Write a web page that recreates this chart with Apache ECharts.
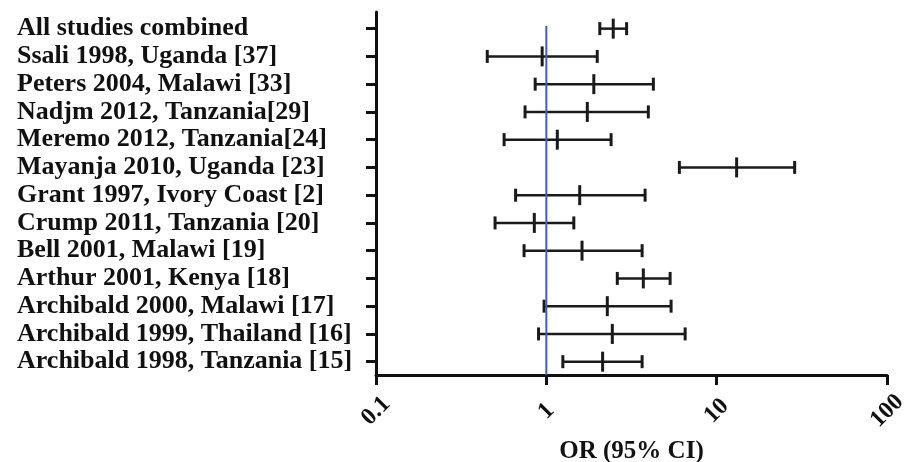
<!DOCTYPE html>
<html>
<head>
<meta charset="utf-8">
<script src="https://cdn.jsdelivr.net/npm/echarts@6/dist/echarts.min.js"></script>
<style>
html,body{margin:0;padding:0;background:#fff;}
#chart{width:905px;height:462px;}
</style>
</head>
<body>
<div id="chart"></div>
<script>
// Studies, bottom to top
const studies = [
  "Archibald 1998, Tanzania [15]",
  "Archibald 1999, Thailand [16]",
  "Archibald 2000, Malawi [17]",
  "Arthur 2001, Kenya [18]",
  "Bell 2001, Malawi [19]",
  "Crump 2011, Tanzania [20]",
  "Grant 1997, Ivory Coast [2]",
  "Mayanja 2010, Uganda [23]",
  "Meremo 2012, Tanzania[24]",
  "Nadjm 2012, Tanzania[29]",
  "Peters 2004, Malawi [33]",
  "Ssali 1998, Uganda [37]",
  "All studies combined"
];
const oddsRatio = [2.14, 2.44, 2.28, 3.71, 1.62, 0.85, 1.57, 13.1, 1.16, 1.74, 1.90, 0.945, 2.47];
const ciLower   = [1.25, 0.90, 0.97, 2.61, 0.74, 0.50, 0.66, 6.04, 0.565, 0.75, 0.86, 0.45, 2.06];
const ciUpper   = [3.65, 6.53, 5.40, 5.33, 3.65, 1.45, 3.80, 28.7, 2.40, 3.97, 4.25, 1.99, 2.96];
const xTickValues = [0.1, 1, 10, 100];
const nullValue = 1;
const rowIndex = studies.map((_, i) => i);

const fontFam = '"Liberation Serif", "Times New Roman", serif';
const chart = echarts.init(document.getElementById('chart'), null, {renderer: 'canvas'});

const ebData = rowIndex.map(i => [i, ciLower[i], oddsRatio[i], ciUpper[i]]);

const option = {
  animation: false,
  backgroundColor: '#fff',
  grid: {left: 376, right: 18, top: 12, bottom: 87, containLabel: false, outerBoundsMode: 'none'},
  xAxis: {
    type: 'log',
    logBase: 10,
    min: xTickValues[0],
    max: xTickValues[xTickValues.length - 1],
    name: 'OR (95% CI)',
    nameLocation: 'middle',
    nameGap: 60,
    nameTextStyle: {fontFamily: fontFam, fontWeight: 'bold', fontSize: 25, color: '#111'},
    axisLine: {show: true, onZero: false, lineStyle: {color: '#111', width: 3}},
    axisTick: {show: true, length: 10, lineStyle: {color: '#111', width: 3}},
    axisLabel: {
      rotate: 45, align: 'center', verticalAlign: 'middle', margin: 36,
      fontFamily: fontFam, fontWeight: 'bold', fontSize: 24, color: '#111',
      formatter: v => String(v)
    },
    splitLine: {show: false},
    minorTick: {show: false}
  },
  yAxis: {
    type: 'value',
    min: -0.48,
    max: 12.6,
    axisLine: {show: true, onZero: false, lineStyle: {color: '#111', width: 3}},
    axisTick: {show: true, length: 10, inside: false, customValues: rowIndex, lineStyle: {color: '#111', width: 3}},
    axisLabel: {
      customValues: rowIndex,
      align: 'left', margin: 359,
      fontFamily: fontFam, fontWeight: 'bold', fontSize: 26, color: '#111',
      formatter: v => studies[Math.round(v)]
    },
    splitLine: {show: false}
  },
  series: [
    {
      type: 'line',
      data: [[nullValue, -0.48], [nullValue, 12.1]],
      symbol: 'none',
      lineStyle: {color: '#3a5fcd', width: 2},
      z: 5
    },
    {
      type: 'custom',
      data: ebData,
      encode: {x: [1, 2, 3], y: 0},
      z: 3,
      renderItem: function (params, api) {
        const y = api.value(0);
        const lo = api.coord([api.value(1), y]);
        const mid = api.coord([api.value(2), y]);
        const hi = api.coord([api.value(3), y]);
        const cap = 6.5, ctr = 10;
        const st = {stroke: '#1a1a1a', lineWidth: 3};
        return {
          type: 'group',
          children: [
            {type: 'line', shape: {x1: lo[0], y1: lo[1], x2: hi[0], y2: hi[1]}, style: {stroke: '#1a1a1a', lineWidth: 2.5}},
            {type: 'line', shape: {x1: lo[0], y1: lo[1] - cap, x2: lo[0], y2: lo[1] + cap}, style: st},
            {type: 'line', shape: {x1: hi[0], y1: hi[1] - cap, x2: hi[0], y2: hi[1] + cap}, style: st},
            {type: 'line', shape: {x1: mid[0], y1: mid[1] - ctr, x2: mid[0], y2: mid[1] + ctr}, style: st}
          ]
        };
      }
    }
  ]
};
chart.setOption(option);
</script>
</body>
</html>
